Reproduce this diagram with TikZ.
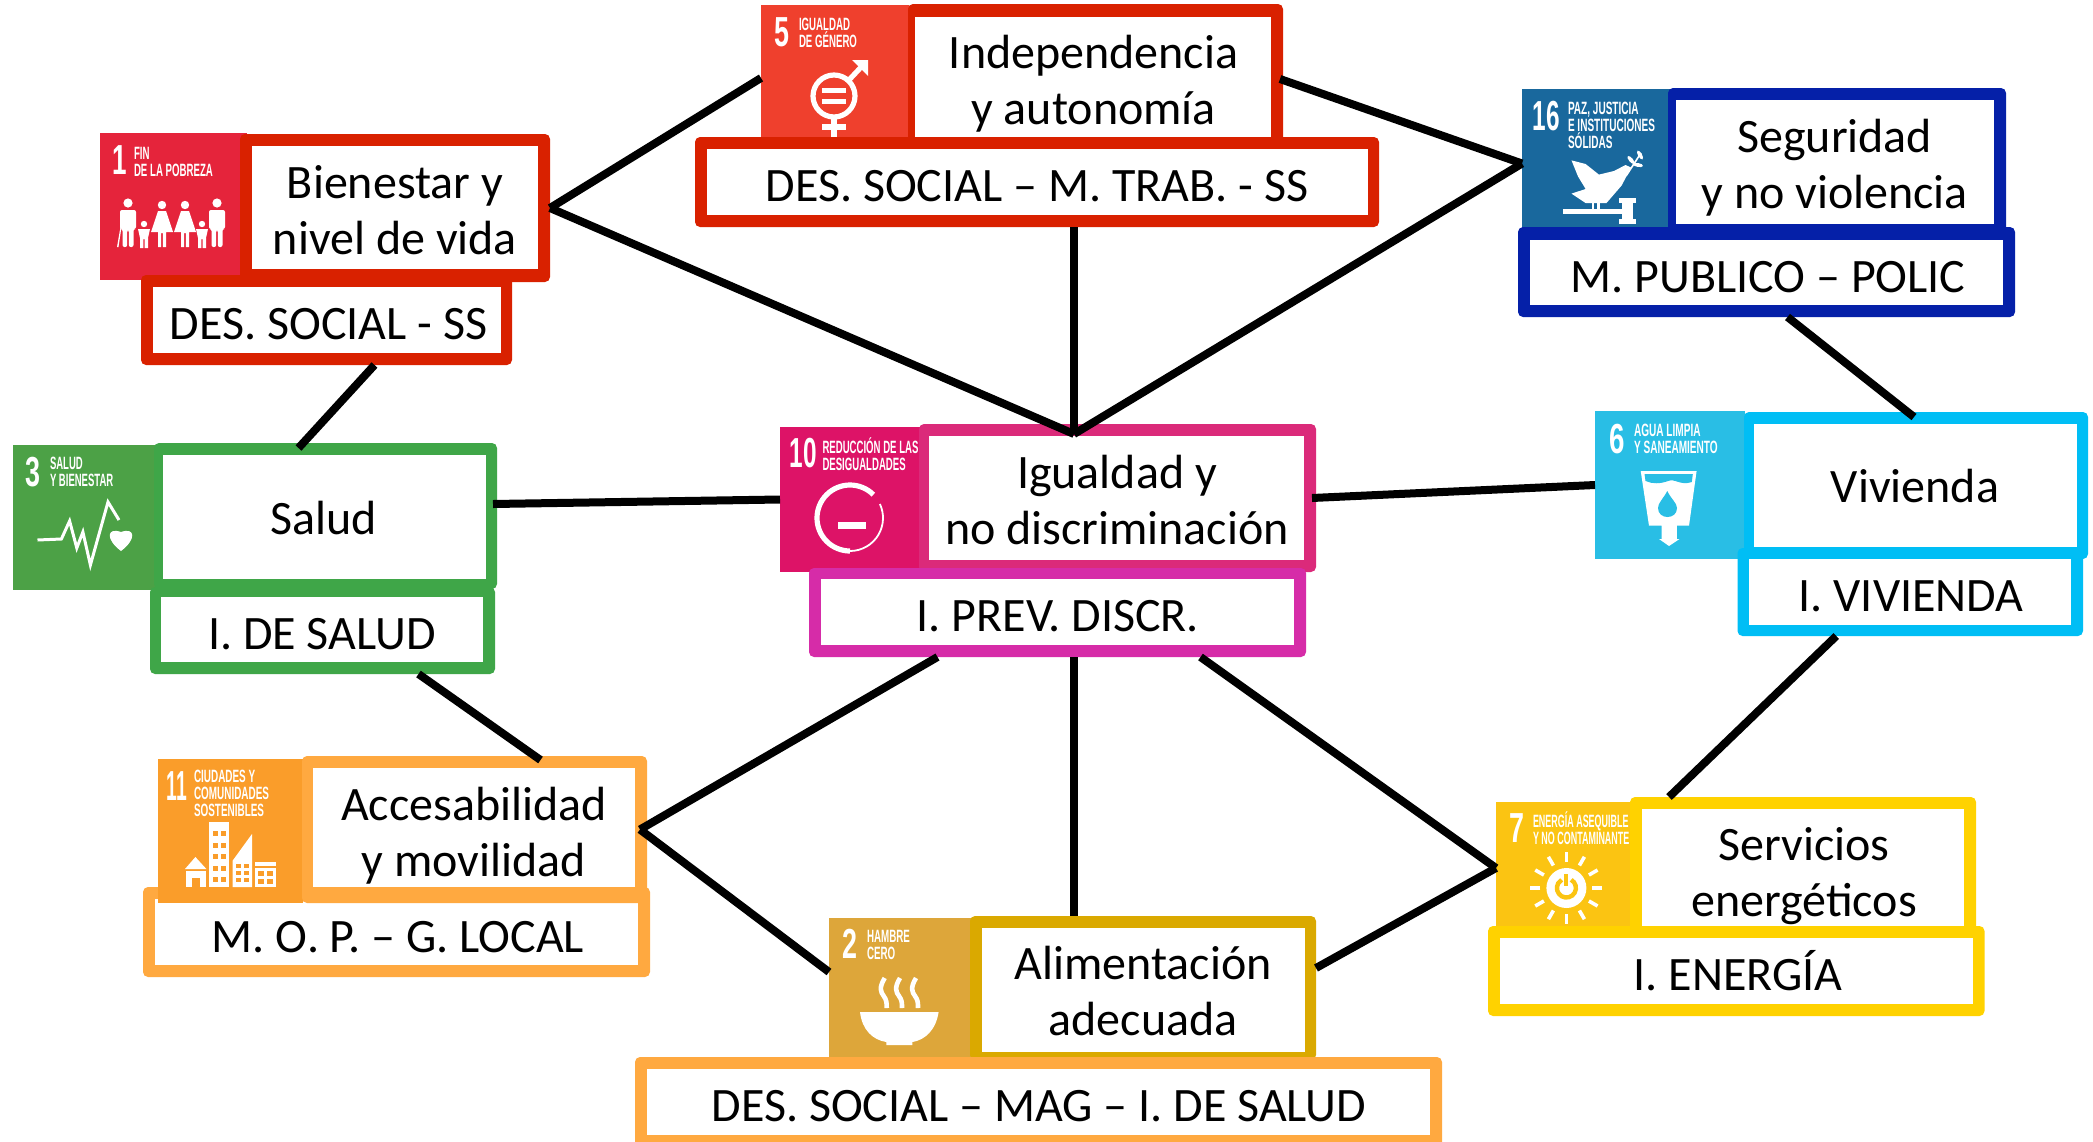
\documentclass[tikz,border=0pt]{standalone}
\usepackage{fontspec}
\setmainfont{Carlito}
\newfontfamily\tilefont{Liberation Sans}[BoldFont={Liberation Sans Bold}]
\definecolor{cred}{HTML}{D92100}
\definecolor{cgreen}{HTML}{3FA648}
\definecolor{cblue}{HTML}{0520A8}
\definecolor{ccyan}{HTML}{00BEF5}
\definecolor{cmag}{HTML}{DB2A7A}
\definecolor{cpur}{HTML}{D62CA8}
\definecolor{corg}{HTML}{FFA940}
\definecolor{cgold}{HTML}{DAA900}
\definecolor{cyel}{HTML}{FFD200}
\definecolor{tone}{HTML}{E5243B}
\definecolor{ttwo}{HTML}{DDA63A}
\definecolor{tthree}{HTML}{4CA146}
\definecolor{tfive}{HTML}{EF402D}
\definecolor{tsix}{HTML}{29BEE5}
\definecolor{tseven}{HTML}{FBC412}
\definecolor{tten}{HTML}{DD1367}
\definecolor{televen}{HTML}{FA9D2A}
\definecolor{tsixteen}{HTML}{19689D}
\tikzset{
  obx/.style={rectangle,rounded corners=2.5pt,inner sep=0pt,outer sep=0pt,draw=none},
  ibx/.style={rectangle,fill=white,inner sep=0pt,outer sep=0pt,draw=none},
  tbx/.style={rectangle,inner sep=0pt,outer sep=0pt,draw=none},
  txt/.style={inner sep=0pt,outer sep=0pt,align=center,text=black,font=\fontsize{24}{28}\selectfont},
  tnum/.style={inner sep=0pt,outer sep=0pt,text=white},
  tlab/.style={inner sep=0pt,outer sep=0pt,anchor=west,align=left,yshift=-1.6pt,text=white},
  link/.style={draw=black,line width=4pt}
}
% name x1 y1 x2 y2 colour
\newcommand{\mkbox}[7]{\pgfmathsetmacro{\cxx}{(#3+#5)/2}\pgfmathsetmacro{\cyy}{(#4+#6)/2}\pgfmathsetmacro{\ww}{(#5-#3)*0.5}\pgfmathsetmacro{\hh}{(#6-#4)*0.5}\node[#1,fill=#7,minimum width=\ww pt,minimum height=\hh pt] (#2) at (\cxx,\cyy) {};}
\newcommand{\obox}[6]{\mkbox{obx}{#1}{#2}{#3}{#4}{#5}{#6}}
\newcommand{\ibox}[5]{\mkbox{ibx}{#1}{#2}{#3}{#4}{#5}{white}}
\newcommand{\tile}[6]{\mkbox{tbx}{#1}{#2}{#3}{#4}{#5}{#6}}
% name cx midbaseline text
\newcommand{\lbl}[4]{\pgfmathsetmacro{\cyy}{#3-10}\node[txt] (#1) at (#2,\cyy) {#4};}
% name cx cy stretch digits
\newcommand{\numb}[5]{\node[tnum,font={\tilefont\bfseries\fontsize{21}{21}\selectfont\addfontfeature{FakeStretch=#4}}] (#1) at (#2,#3) {#5};}
% name x ymid stretch lines
\newcommand{\tlabel}[5]{\node[tlab,font={\tilefont\bfseries\fontsize{8.9}{8.5}\selectfont\addfontfeature{FakeStretch=#4}\lineskiplimit=-5pt}] (#1) at (#2,#3) {#5};}
\newcommand{\manf}[2]{\fill[white] (#1,#2) circle[radius=4.6];
 \fill[white,rounded corners=1pt] (#1-8,#2+7) -- (#1+8,#2+7) -- (#1+8,#2+26) -- (#1+5.5,#2+26) -- (#1+5.5,#2+44) -- (#1+0.8,#2+44) -- (#1+0.8,#2+27) -- (#1-0.8,#2+27) -- (#1-0.8,#2+44) -- (#1-5.5,#2+44) -- (#1-5.5,#2+26) -- (#1-8,#2+26) -- cycle;}
\newcommand{\womanf}[2]{\fill[white] (#1,#2) circle[radius=4.2];
 \fill[white] (#1-4,#2+6) -- (#1+4,#2+6) -- (#1+11,#2+27) -- (#1+4,#2+27) -- (#1+4,#2+42) -- (#1+0.8,#2+42) -- (#1+0.8,#2+28) -- (#1-0.8,#2+28) -- (#1-0.8,#2+42) -- (#1-4,#2+42) -- (#1-4,#2+27) -- (#1-11,#2+27) -- cycle;}
\newcommand{\childf}[2]{\fill[white] (#1,#2) circle[radius=3.2];
 \fill[white] (#1-6,#2+5) -- (#1+6,#2+5) -- (#1+4,#2+14) -- (#1+4,#2+24) -- (#1+0.7,#2+24) -- (#1+0.7,#2+15) -- (#1-0.7,#2+15) -- (#1-0.7,#2+24) -- (#1-4,#2+24) -- (#1-4,#2+14) -- cycle;}
\begin{document}
\begin{tikzpicture}[x=0.5pt,y=-0.5pt]
\useasboundingbox (0,0) rectangle (2093,1141);
\fill[white] (0,0) rectangle (2093,1141);

% --- group 1: Bienestar
\tile{tA}{100}{133}{247}{280}{tone}
\numb{tAn}{120}{160}{0.62}{1}
\tlabel{tAl}{134}{161.5}{0.543}{\strut FIN\\ \strut DE LA POBREZA}
\manf{128}{203}
\fill[white] (117,247) -- (121,224) -- (122,224) -- (118.5,247) -- cycle;
\childf{144}{224}
\womanf{162}{205}
\womanf{185}{205}
\childf{202}{224}
\manf{217}{203}
\obox{bien}{240}{134}{550}{282}{cred}
\ibox{bienin}{252}{146}{538}{269}
\lbl{bient}{395}{225}{\strut Bienestar y\\ \strut nivel de vida}
\obox{dsoc}{141}{275}{512}{365}{cred}
\ibox{dsocin}{153}{287}{501}{353}
\lbl{dsoct}{328.6}{338}{\strut DES. SOCIAL - SS}

% --- group 3: Salud
\tile{tC}{13}{445}{160}{590}{tthree}
\numb{tCn}{33}{472}{0.64}{3}
\tlabel{tCl}{50}{471.5}{0.535}{\strut SALUD\\ \strut Y BIENESTAR}
\draw[white,line width=1.5pt,line join=miter] (37.5,540) -- (61.4,539) -- (69.6,521) -- (76.8,548) -- (82.9,532) -- (90.4,565) -- (108,502) -- (119,520);
\fill[white] (121,551) .. controls (105,539) and (107,527) .. (121,532) .. controls (135,527) and (137,539) .. (121,551) -- cycle;
\obox{dsal}{150}{587}{495}{674}{cgreen}
\ibox{dsalin}{161}{597}{483}{662}
\lbl{dsalt}{322}{648}{\strut I. DE SALUD}
\obox{salud}{154}{443}{497}{589}{cgreen}
\ibox{saludin}{163}{455}{486}{579}
\lbl{saludt}{324}{533}{\strut Salud}

% --- group 5: Independencia
\tile{tE}{761}{5}{909}{137}{tfive}
\numb{tEn}{782}{32}{0.64}{5}
\tlabel{tEl}{799}{32.5}{0.543}{\strut IGUALDAD\\ \strut DE GÉNERO}
\draw[white,line width=2.6pt] (834,96) circle[radius=21];
\draw[white,line width=2.6pt] (849,80) -- (864,64);
\fill[white] (852,60) -- (868,60) -- (868,76) -- cycle;
\fill[white] (822,88) rectangle (846,93);
\fill[white] (822,99) rectangle (846,104);
\fill[white] (831,117) rectangle (837,137);
\fill[white] (822,124) rectangle (846,130);
\obox{indep}{908}{4}{1283}{142}{cred}
\ibox{indepin}{915}{17}{1271}{137}
\lbl{indept}{1093.6}{95}{\strut Independencia\\ \strut y autonomía}
\obox{trab}{695}{137}{1379}{227}{cred}
\ibox{trabin}{707}{149}{1368}{215}
\lbl{trabt}{1037}{200}{\strut DES. SOCIAL – M. TRAB. - SS}

% --- group 16: Seguridad
\tile{tP}{1522}{89}{1671}{228}{tsixteen}
\numb{tPn}{1546}{116}{0.58}{16}
\tlabel{tPl}{1568}{125}{0.564}{\strut PAZ, JUSTICIA\\ \strut E INSTITUCIONES\\ \strut SÓLIDAS}
\fill[white] (1571.5,160.4) -- (1585.6,164) -- (1598.9,174.6) -- (1614,171) -- (1625.5,165) -- (1631,167.5) -- (1621.7,185.4) -- (1606.5,203) -- (1585.6,203) -- (1571.5,193.6) -- (1585.6,189) -- (1578,176.4) -- cycle;
\draw[white,line width=0.8pt] (1626,176) -- (1641,153);
\fill[white,rotate around={-50:(1631,160)}] (1631,160) ellipse[x radius=5,y radius=2];
\fill[white,rotate around={-10:(1638,165)}] (1638,165) ellipse[x radius=5,y radius=2];
\fill[white,rotate around={-60:(1640,155)}] (1640,155) ellipse[x radius=5,y radius=2];
\fill[white] (1591.5,203) rectangle (1594,211);
\fill[white] (1597,203) rectangle (1599.5,211);
\fill[white] (1562.7,209) rectangle (1622,214);
\fill[white] (1622,202) rectangle (1633,221);
\fill[white] (1619,198) rectangle (1636,203);
\fill[white] (1619,219) rectangle (1636,224);
\obox{segu}{1668}{88}{2006}{232}{cblue}
\ibox{seguin}{1676}{100}{1994}{224}
\lbl{segut}{1834.7}{179}{\strut Seguridad\\ \strut y no violencia}
\obox{mpub}{1518}{227}{2015}{317}{cblue}
\ibox{mpubin}{1530}{240}{2003}{305}
\lbl{mpubt}{1768}{291}{\strut M. PUBLICO – POLIC}

% --- group 6: Vivienda
\tile{tF}{1595}{411}{1745}{559}{tsix}
\numb{tFn}{1617}{439}{0.66}{6}
\tlabel{tFl}{1634}{438.5}{0.566}{\strut AGUA LIMPIA\\ \strut Y SANEAMIENTO}
\fill[white] (1640.7,471) -- (1696.6,471) -- (1689,525.7) -- (1676.8,525.7) -- (1676.8,539) -- (1679.5,539) -- (1669,546) -- (1659,539) -- (1661.6,539) -- (1661.6,525.7) -- (1649,525.7) -- cycle;
\fill[tsix] (1644.5,474) -- (1692.8,474) -- (1691.8,482) .. controls (1680,486) and (1675,478) .. (1668,481) .. controls (1660,484) and (1652,484) .. (1645.5,481) -- cycle;
\fill[tsix] (1667.3,491) .. controls (1663,499) and (1658,503) .. (1658,508) .. controls (1658,520) and (1677,520) .. (1677,508) .. controls (1677,503) and (1671,499) .. (1667.3,491) -- cycle;
\obox{vivi}{1744}{412}{2088}{559}{ccyan}
\ibox{viviin}{1754}{424}{2077}{547}
\lbl{vivit}{1915}{501}{\strut Vivienda}
\obox{ivi}{1737.5}{548}{2083}{636}{ccyan}
\ibox{iviin}{1749}{559}{2071}{625}
\lbl{ivit}{1911}{610}{\strut I. VIVIENDA}

% --- group 10: Igualdad
\tile{tJ}{780}{427}{930}{572}{tten}
\numb{tJn}{803}{453}{0.58}{10}
\tlabel{tJl}{822.5}{453.5}{0.539}{\strut REDUCCIÓN DE LAS\\ \strut DESIGUALDADES}
\begin{scope}[shift={(850,518)}]
\draw[white,line width=2.6pt] (-45:33) arc[start angle=-45,end angle=-270,radius=33];
\draw[white,line width=0.9pt] (90:33) arc[start angle=-270,end angle=-385,radius=33];
\end{scope}
\fill[white] (838,522) rectangle (866,529);
\obox{igual}{919}{424}{1316}{572}{cmag}
\ibox{igualin}{929}{436}{1304}{560}
\lbl{igualt}{1117}{515}{\strut Igualdad y\\ \strut no discriminación}
\obox{prev}{809}{568}{1306}{657}{cpur}
\ibox{previn}{821}{579}{1294}{645}
\lbl{prevt}{1058}{630}{\strut I. PREV. DISCR.}

% --- group 11: Accesabilidad
\obox{mop}{143}{887}{650}{977}{corg}
\ibox{mopin}{155}{899}{638}{965}
\lbl{mopt}{398}{951}{\strut M. O. P. – G. LOCAL}
\tile{tK}{158}{759}{303}{903}{televen}
\numb{tKn}{177}{786}{0.46}{11}
\tlabel{tKl}{194}{793}{0.558}{\strut CIUDADES Y\\ \strut COMUNIDADES\\ \strut SOSTENIBLES}
\fill[white] (185,869) -- (195.4,857) -- (206.4,869) -- cycle;
\fill[white] (186,871) rectangle (206,887);
\fill[televen] (192,878) rectangle (200,887);
\fill[white] (209,822) rectangle (229,887);
\foreach \yy in {831,843,854,866,877}{
  \fill[televen] (212.5,\yy) rectangle (217.5,\yy+4.5);
  \fill[televen] (220.5,\yy) rectangle (225.5,\yy+4.5);
}
\fill[white] (232.6,887) -- (232.6,860.7) -- (252,834) -- (252,887) -- cycle;
\foreach \yy in {864,871,878}{
  \fill[televen] (236,\yy) rectangle (241,\yy+4);
  \fill[televen] (244,\yy) rectangle (249,\yy+4);
}
\fill[white] (254.7,861.7) rectangle (275.7,887);
\fill[televen] (254.7,866) rectangle (275.7,868);
\foreach \yy in {871,879}{
  \fill[televen] (258,\yy) rectangle (263.5,\yy+4.5);
  \fill[televen] (267,\yy) rectangle (272.5,\yy+4.5);
}
\obox{acce}{302}{756}{647}{903}{corg}
\ibox{accein}{312.5}{768}{635}{887}
\lbl{accet}{474}{847}{\strut Accesabilidad\\ \strut y movilidad}

% --- group 2: Alimentacion
\tile{tB}{829}{918}{973}{1057}{ttwo}
\numb{tBn}{850}{944}{0.64}{2}
\tlabel{tBl}{867}{944.5}{0.55}{\strut HAMBRE\\ \strut CERO}
\fill[white] (860,1012) -- (938.6,1012) .. controls (936,1030) and (925,1040) .. (912.4,1042) -- (912.4,1045) -- (886.3,1045) -- (886.3,1042) .. controls (873,1040) and (862,1030) .. (860,1012) -- cycle;
\foreach \xx in {883.7,899,915}{
  \draw[white,line width=2.3pt] (\xx+1,978) .. controls (\xx-5,988) and (\xx-3,992) .. (\xx,996) .. controls (\xx+3,1000) and (\xx+3,1003) .. (\xx+3,1008);
}
\obox{alim}{970}{916}{1316}{1060}{cgold}
\ibox{alimin}{982}{928}{1305}{1052}
\lbl{alimt}{1143}{1006}{\strut Alimentación\\ \strut adecuada}
\obox{dmag}{635}{1057}{1442}{1147}{corg}
\ibox{dmagin}{647}{1069}{1430}{1135}
\lbl{dmagt}{1039}{1120}{\strut DES. SOCIAL – MAG – I. DE SALUD}

% --- group 7: Servicios
\tile{tG}{1496}{802}{1632}{934}{tseven}
\numb{tGn}{1516.5}{828}{0.64}{7}
\tlabel{tGl}{1533}{827.5}{0.503}{\strut ENERGÍA ASEQUIBLE\\ \strut Y NO CONTAMINANTE}
\begin{scope}[shift={(1566.4,888)}]
\fill[white] (0,0) circle[radius=20];
\foreach \aa in {0,30,...,330}{
  \draw[white,line width=1.8pt] (\aa:26) -- (\aa:36);
}
\draw[tseven,line width=2.2pt] (-60:9.5) arc[start angle=-60,end angle=240,radius=9.5];
\draw[tseven,line width=2pt] (0,-14) -- (0,-2);
\end{scope}
\obox{serv}{1630}{797}{1976}{932}{cyel}
\ibox{servin}{1641.5}{809}{1964}{927}
\lbl{servt}{1804}{887}{\strut Servicios\\ \strut energéticos}
\obox{ener}{1488}{926}{1984.5}{1016}{cyel}
\ibox{enerin}{1500}{938}{1973}{1004}
\lbl{enert}{1738}{989}{\strut I. ENERGÍA}

% --- connectors
\coordinate (hub) at (1074,434);
\draw[link] (bien.east) -- ([shift={(0,7)}]tE.west);
\draw[link] (bien.east) -- (hub);
\draw[link] ([shift={(37,0)}]trab.south) -- (hub);
\draw[link] ([shift={(-3,6)}]indep.east) -- ([shift={(0,5)}]tP.west);
\draw[link] ([shift={(0,5)}]tP.west) -- (hub);
\draw[link] ([shift={(21,0)}]mpub.south) -- ([shift={(-2,5)}]vivi.north);
\draw[link] ([shift={(-4,0)}]igual.east) -- (tF.west);
\draw[link] ([shift={(-4,-12)}]salud.east) -- (tJ.west);
\draw[link] ([shift={(48,0)}]dsoc.south) -- ([shift={(-27,5)}]salud.north);
\draw[link] ([shift={(96,0)}]dsal.south) -- ([shift={(66,4)}]acce.north);
\draw[link] ([shift={(-120,0)}]prev.south) -- ([shift={(-7,0)}]acce.east);
\draw[link] ([shift={(16.5,0)}]prev.south) -- ([shift={(-69,0)}]alim.north);
\draw[link] ([shift={(143,0)}]prev.south) -- (tG.west);
\draw[link] ([shift={(-7,0)}]acce.east) -- ([shift={(0,-15.5)}]tB.west);
\draw[link] ([shift={(0,-20)}]alim.east) -- (tG.west);
\draw[link] ([shift={(-74,0)}]ivi.south) -- ([shift={(-134,0)}]serv.north);
\end{tikzpicture}
\end{document}
